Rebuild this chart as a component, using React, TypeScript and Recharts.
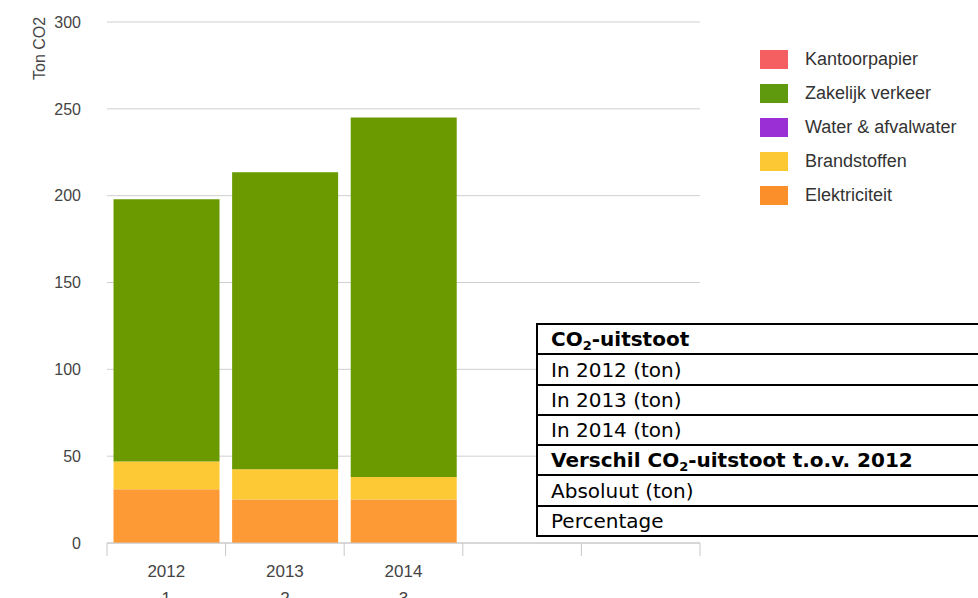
import React from 'react';
import { BarChart, Bar, XAxis, YAxis, CartesianGrid, Legend } from 'recharts';

// categories on the x axis (two label lines)
const years = ['2012', '2013', '2014', '', ''];
const indexLabels = ['1', '2', '3', '', ''];

// series values (ton CO2), bottom of the stack first
const elektriciteit = [31, 25, 25, 0, 0];
const brandstoffen = [16, 17.5, 13, 0, 0];
const waterAfvalwater = [0, 0, 0, 0, 0];
const zakelijkVerkeer = [151, 171, 207, 0, 0];
const kantoorpapier = [0, 0, 0, 0, 0];

const yTicks = [0, 50, 100, 150, 200, 250, 300];

// table rows: [text before subscript, subscript, text after]
const tableRows = [
  { pre: 'CO', sub: '2', post: '-uitstoot', bold: true },
  { pre: 'In 2012 (ton)', sub: '', post: '', bold: false },
  { pre: 'In 2013 (ton)', sub: '', post: '', bold: false },
  { pre: 'In 2014 (ton)', sub: '', post: '', bold: false },
  { pre: 'Verschil CO', sub: '2', post: '-uitstoot t.o.v. 2012', bold: true },
  { pre: 'Absoluut (ton)', sub: '', post: '', bold: false },
  { pre: 'Percentage', sub: '', post: '', bold: false },
];

const series = [
  { key: 'elektriciteit', name: 'Elektriciteit', values: elektriciteit, fill: '#fd9a35', legend: '#fb8f2a' },
  { key: 'brandstoffen', name: 'Brandstoffen', values: brandstoffen, fill: '#fdc935', legend: '#fcc934' },
  { key: 'water', name: 'Water & afvalwater', values: waterAfvalwater, fill: '#9b2fd6', legend: '#9b2fd6' },
  { key: 'zakelijk', name: 'Zakelijk verkeer', values: zakelijkVerkeer, fill: '#6a9a00', legend: '#5f9a0e' },
  { key: 'kantoorpapier', name: 'Kantoorpapier', values: kantoorpapier, fill: '#f55f61', legend: '#f55f61' },
];

const data = years.map((_, i) => {
  const row: Record<string, number | string> = { cat: `c${i}` };
  series.forEach((s) => {
    row[s.key] = s.values[i];
  });
  return row;
});

const FONT = '"Liberation Sans", Arial, Helvetica, sans-serif';

function XTick(props: any) {
  const { x, y, payload, index, visibleTicksCount } = props;
  const half = payload?.offset ?? 59;
  const i = payload?.index ?? index;
  const last = i === (visibleTicksCount ?? years.length) - 1;
  return (
    <g>
      <line x1={x - half} x2={x - half} y1={y} y2={y + 13} stroke="#c8c8c8" />
      {last && <line x1={x + half} x2={x + half} y1={y} y2={y + 13} stroke="#c8c8c8" />}
      <text x={x} y={y + 34} textAnchor="middle" fill="#444" fontSize={17} fontFamily={FONT}>
        {years[i]}
      </text>
      <text x={x} y={y + 61} textAnchor="middle" fill="#444" fontSize={17} fontFamily={FONT}>
        {indexLabels[i]}
      </text>
    </g>
  );
}

function LegendContent() {
  const items = [...series].reverse();
  return (
    <div style={{ fontFamily: FONT }}>
      {items.map((s) => (
        <div key={s.key} style={{ display: 'flex', alignItems: 'center', height: 34 }}>
          <span style={{ display: 'inline-block', width: 28, height: 19, background: s.legend, marginRight: 17 }} />
          <span style={{ fontSize: 18, color: '#333', whiteSpace: 'nowrap' }}>{s.name}</span>
        </div>
      ))}
    </div>
  );
}

export default function App() {
  return (
    <div style={{ position: 'absolute', left: 0, top: 0, width: 978, height: 598, overflow: 'hidden', background: '#fff' }}>
      <BarChart
        width={978}
        height={598}
        data={data}
        margin={{ top: 22, right: 278, bottom: 0, left: 0 }}
        barCategoryGap="5.5%"
      >
        <CartesianGrid horizontal vertical={false} stroke="#cfcfcf" />
        <XAxis
          dataKey="cat"
          height={55}
          stroke="#c8c8c8"
          tickLine={false}
          tickSize={0}
          tickMargin={0}
          tick={<XTick />}
          interval={0}
        />
        <YAxis
          width={107}
          domain={[0, 300]}
          ticks={yTicks}
          axisLine={false}
          tickLine={false}
          tickSize={0}
          tickMargin={26}
          tick={{ fill: '#444', fontSize: 16, fontFamily: FONT }}
          label={{
            value: 'Ton CO2',
            angle: -90,
            position: 'insideTopLeft',
            offset: 0,
            dx: 34,
            dy: 58,
            fill: '#444',
            fontSize: 16,
            fontFamily: FONT,
          }}
        />
        <Legend
          layout="vertical"
          align="center"
          verticalAlign="middle"
          wrapperStyle={{ left: 760, top: 42, width: 218 }}
          content={<LegendContent />}
        />
        {series.map((s) => (
          <Bar key={s.key} dataKey={s.key} name={s.name} stackId="a" fill={s.fill} isAnimationActive={false} />
        ))}
      </BarChart>
      <table
        style={{
          position: 'absolute',
          left: 536,
          top: 323,
          width: 470,
          borderCollapse: 'collapse',
          background: '#fff',
          fontFamily: '"DejaVu Sans", Verdana, sans-serif',
          fontSize: 20,
          color: '#000',
        }}
      >
        <tbody>
          {tableRows.map((r) => (
            <tr key={r.pre + r.post}>
              <td
                style={{
                  border: '2px solid #000',
                  height: 28.3,
                  padding: '0 0 0 13px',
                  fontWeight: r.bold ? 'bold' : 'normal',
                  whiteSpace: 'nowrap',
                  lineHeight: '28px',
                  verticalAlign: 'bottom',
                }}
              >
                {r.pre}
                {r.sub && (
                  <sub style={{ fontSize: 13, lineHeight: 0, verticalAlign: -4 }}>{r.sub}</sub>
                )}
                {r.post}
              </td>
            </tr>
          ))}
        </tbody>
      </table>
    </div>
  );
}
